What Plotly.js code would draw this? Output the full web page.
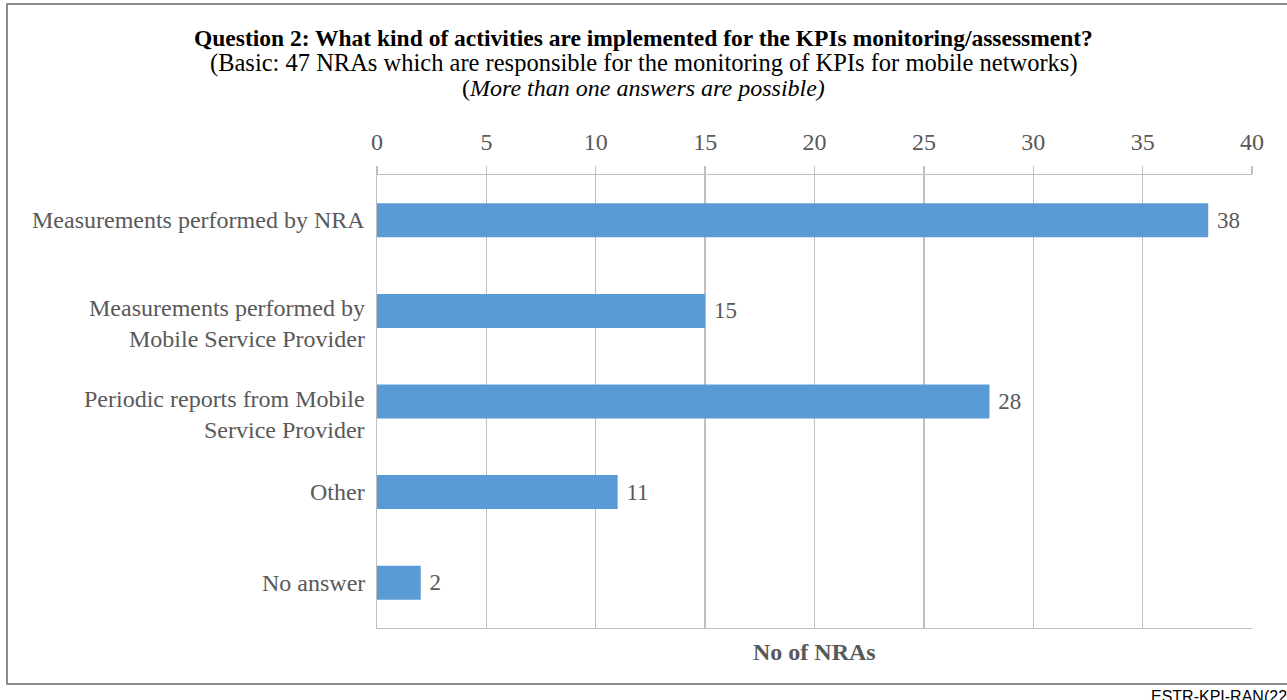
<!DOCTYPE html>
<html>
<head>
<meta charset="utf-8">
<script src="https://cdn.plot.ly/plotly-3.0.1.min.js"></script>
<style>
html,body{margin:0;padding:0;background:#fff;}
#chart{width:1287px;height:700px;}
</style>
</head>
<body>
<div id="chart"></div>
<script>
const categories = [
  "Measurements performed by NRA",
  "Measurements performed by<br>Mobile Service Provider",
  "Periodic reports from Mobile<br>Service Provider",
  "Other",
  "No answer"
];
const values = [38, 15, 28, 11, 2];
const tickValues = [0, 5, 10, 15, 20, 25, 30, 35, 40];
const titleLines = [
  "<b>Question 2: What kind of activities are implemented for the KPIs monitoring/assessment?</b>",
  "(Basic: 47 NRAs which are responsible for the monitoring of KPIs for mobile networks)",
  "(<i>More than one answers are possible)</i>"
];

const L = 377, R = 1252, T = 175, B = 628;
const px = x => (x - L) / (R - L);
const py = y => (B - y) / (B - T);

const serif = "Liberation Serif, Times New Roman, serif";
const gray = "#595959";

const trace = {
  type: "bar",
  orientation: "h",
  x: values,
  y: categories,
  marker: {color: "#5b9bd5"},
  text: values.map(v => " " + v),
  textposition: "outside",
  textfont: {family: serif, size: 23, color: gray},
  cliponaxis: false,
  hoverinfo: "none"
};

const titleY = [38, 63, 88];
const titleSizes = [23.5, 24.5, 24];
const titleAnn = titleLines.map((t, i) => ({
  text: t,
  xref: "paper", yref: "paper",
  x: px(643.5), y: py(titleY[i]),
  xanchor: "center", yanchor: "middle",
  showarrow: false,
  font: {family: serif, size: titleSizes[i], color: "#000"}
}));

const catAnn = categories.map(c => ({
  text: c,
  xref: "paper", yref: "y",
  x: 0, y: c,
  xanchor: "right", yanchor: "middle",
  xshift: -10,
  yshift: c.includes("<br>") ? -13 : 0,
  align: "right",
  showarrow: false,
  font: {family: serif, size: 24, color: gray}
}));

const layout = {
  width: 1287,
  height: 700,
  margin: {l: L, r: 1287 - R, t: T, b: 700 - B},
  paper_bgcolor: "#fff",
  plot_bgcolor: "#fff",
  showlegend: false,
  bargap: 0.625,
  font: {family: serif, size: 24, color: gray},
  xaxis: {
    side: "top",
    range: [0, 40],
    tickvals: tickValues,
    ticktext: tickValues.map(String),
    showgrid: true,
    gridcolor: "#bfbfbf",
    gridwidth: 1.3,
    zeroline: false,
    showline: true,
    linecolor: "#bfbfbf",
    linewidth: 1.3,
    mirror: true,
    ticks: "outside",
    ticklen: 8,
    tickcolor: "#bfbfbf",
    tickwidth: 1.3,
    ticklabelstandoff: 6,
    tickfont: {family: serif, size: 24, color: gray},
    fixedrange: true
  },
  yaxis: {
    autorange: "reversed",
    showline: true,
    linecolor: "#bfbfbf",
    linewidth: 1.3,
    showgrid: false,
    zeroline: false,
    ticks: "",
    showticklabels: false,
    fixedrange: true
  },
  annotations: titleAnn.concat(catAnn, [
    {
      text: "<b>No of NRAs</b>",
      xref: "paper", yref: "paper",
      x: 0.5, y: py(652),
      xanchor: "center", yanchor: "middle",
      showarrow: false,
      font: {family: serif, size: 24, color: gray}
    },
    {
      text: "ESTR-KPI-RAN(22",
      xref: "paper", yref: "paper",
      x: px(1149), y: py(696),
      xanchor: "left", yanchor: "middle",
      showarrow: false,
      font: {family: "Liberation Sans, Arial, sans-serif", size: 16, color: "#000"}
    }
  ]),
  shapes: [
    {
      type: "rect", xref: "paper", yref: "paper",
      x0: px(7), x1: px(1300), y0: py(684), y1: py(4),
      line: {color: "#8c8c8c", width: 2},
      fillcolor: "rgba(0,0,0,0)",
      layer: "below"
    }
  ]
};

Plotly.newPlot("chart", [trace], layout, {staticPlot: true, displayModeBar: false});
</script>
</body>
</html>
